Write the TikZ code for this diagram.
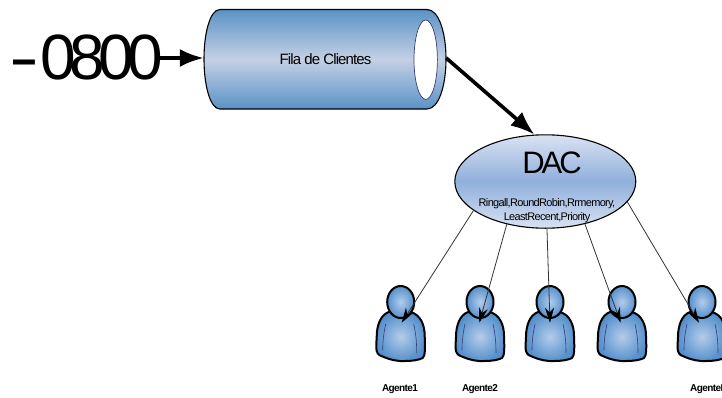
\documentclass[tikz,border=0pt]{standalone}
\usepackage{fontspec}
\setmainfont{Liberation Sans}
\newfontfamily\tightA[LetterSpace=-10]{Liberation Sans}
\newfontfamily\tightB[LetterSpace=-6]{Liberation Sans}
\usetikzlibrary{shapes.geometric,arrows.meta}
\definecolor{blueA}{HTML}{5A92C6}
\definecolor{blueB}{HTML}{C4D0E4}
\definecolor{blueC}{HTML}{8FAFDC}
\definecolor{blueD}{HTML}{D9E2F2}
\definecolor{headin}{HTML}{B4CCEA}
\definecolor{headout}{HTML}{5590CC}
\definecolor{crease}{HTML}{3A3A78}
\tikzset{
  x=1pt,y=-1pt,
  txt/.style={inner sep=0pt,align=center},
  agentlabel/.style={txt,font=\fontsize{10}{11}\selectfont\bfseries\tightB},
  heavy/.style={line width=3.6pt,-{Latex[length=24pt,width=18pt]},black},
  thin link/.style={draw=black!80,line width=0.8pt,-{Stealth[length=15pt,width=9pt,color=black]}},
  pics/agente/.style={code={
    \shade[inner color=headin,outer color=headout,draw=black,line width=2pt,line join=round]
      (-12,9) .. controls (-20,12) and (-24,22) .. (-24,34)
      .. controls (-24.5,42) and (-24.5,46) .. (-24,48)
      .. controls (-23,52) and (-20,53) .. (-17,54)
      .. controls (-10,57) and (-2,58.5) .. (4,58)
      .. controls (12,58) and (18,57) .. (22,55)
      .. controls (24.5,53) and (24.5,45) .. (24,33)
      .. controls (24,22) and (20,12) .. (10,9) -- cycle;
    \draw[crease,line width=0.6pt] (-15,21) .. controls (-17,30) and (-18,38) .. (-18,47);
    \draw[crease,line width=0.6pt] (13,21) .. controls (15,30) and (16,38) .. (16,50);
    \shade[inner color=headin,outer color=headout,draw=black,line width=2pt]
      (0,-1) ellipse[x radius=13.5,y radius=16];
  }}
}
\begin{document}
\begin{tikzpicture}
\useasboundingbox (0,0) rectangle (722,397);
% queue cylinder
\shade[top color=blueA,bottom color=blueA,middle color=blueB,draw=black,line width=1.1pt]
  (220,9.5) -- (427,9.5) .. controls (439,9.5) and (446,33) .. (446,59)
  .. controls (446,85) and (439,109) .. (427,109) -- (220,109)
  .. controls (210,109) and (204,85) .. (204,59)
  .. controls (204,33) and (210,9.5) .. (220,9.5) -- cycle;
\draw[fill=white,draw=crease,line width=0.7pt] (425.7,59.7) ellipse[x radius=11.7,y radius=39.7];
\node[txt,minimum width=242pt,minimum height=99pt] (fila) at (325,59.2) {};
\node[txt,font=\fontsize{15}{17}\selectfont\tightB] (filatxt) at (325.5,59) {Fila de Clientes};
% number
\node[txt,anchor=base west,font=\fontsize{64}{70}\selectfont\tightA] (num) at (9.5,79) {\scalebox{1.4}[1]{-}\kern0.5pt 0800};
% DAC
\node[ellipse,draw=black,line width=1.1pt,inner sep=0pt,minimum width=181pt,minimum height=93.4pt,
  top color=blueD,bottom color=blueD,middle color=blueC] (dac) at (545.3,181.5) {};
\node[txt,font=\fontsize{31}{34}\selectfont\tightA] (dactxt) at (552,163) {DAC};
\node[txt,font=\fontsize{11}{14}\selectfont\tightB] (dacsub) at (547,210.5) {Ringall,RoundRobin,Rrmemory,\\LeastRecent,Priority};
% agents
\pic (a1) at (400.7,303) {agente};
\pic (a2) at (480,303) {agente};
\pic (a3) at (550,303) {agente};
\pic (a4) at (622,303) {agente};
\pic (a5) at (702,303) {agente};
\coordinate (t1) at (401.7,322.7);
\coordinate (t2) at (479.3,322.7);
\coordinate (t3) at (550,322.7);
\coordinate (t4) at (620.7,322.7);
\coordinate (t5) at (699,322.7);
\node[agentlabel] (l1) at (400,389) {Agente1};
\node[agentlabel] (l2) at (480,389) {Agente2};
\node[agentlabel,anchor=west] (l5) at (690,389) {AgenteN};
% connectors
\coordinate (numend) at (157,58);
\draw[heavy] (numend) -- (fila.west |- numend);
\draw[heavy] (fila.east |- numend) -- (dac.103);
\draw[thin link] (dac.202) -- (t1);
\draw[thin link] (dac.228) -- (t2);
\draw[thin link] (dac.272) -- (t3);
\draw[thin link] (dac.313) -- (t4);
\draw[thin link] (dac.346.6) -- (t5);
\end{tikzpicture}
\end{document}
